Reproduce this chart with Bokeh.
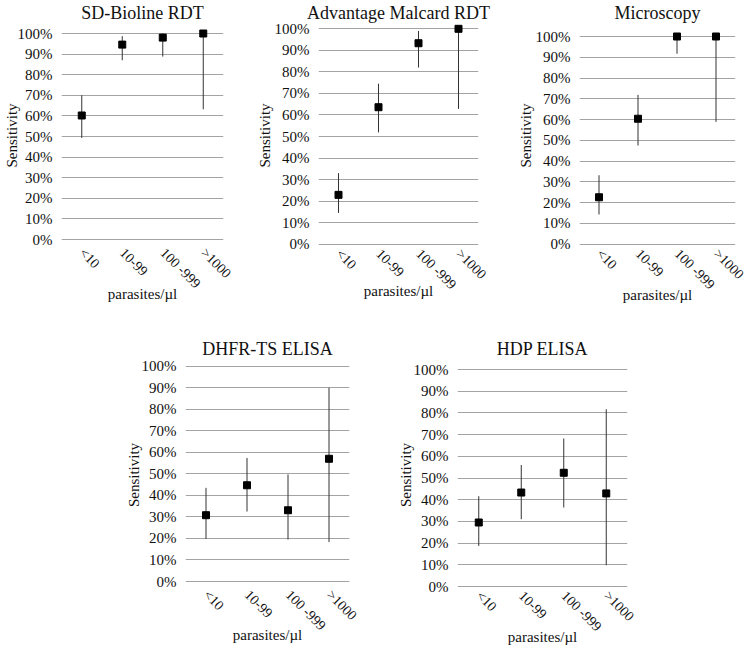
import math
from bokeh.plotting import figure
from bokeh.layouts import column, row
from bokeh.models import FactorRange, Range1d, FixedTicker, PrintfTickFormatter, Spacer, Title
from bokeh.embed import file_html
from bokeh.resources import INLINE

categories = ["<10", "10-99", "100 -999", ">1000"]
y_ticks = [0, 10, 20, 30, 40, 50, 60, 70, 80, 90, 100]

titles = ["SD-Bioline RDT", "Advantage Malcard RDT", "Microscopy", "DHFR-TS ELISA", "HDP ELISA"]
y_label = "Sensitivity"
x_label = "parasites/\u00b5l"

sd_sens = [60.2, 94.6, 98.0, 100.0]
sd_lo = [49.3, 87.0, 88.8, 63.2]
sd_hi = [70.0, 98.7, 100.0, 100.0]

am_sens = [22.9, 63.6, 93.3, 100.0]
am_lo = [14.5, 51.9, 82.0, 62.8]
am_hi = [33.0, 74.5, 99.0, 100.0]

mic_sens = [22.6, 60.4, 100.0, 100.0]
mic_lo = [14.3, 47.5, 91.7, 58.9]
mic_hi = [33.2, 71.9, 100.0, 100.0]

dhfr_sens = [30.8, 44.7, 33.1, 57.0]
dhfr_lo = [19.8, 32.5, 19.5, 18.3]
dhfr_hi = [43.5, 57.4, 49.7, 90.0]

hdp_sens = [29.5, 43.3, 52.4, 42.9]
hdp_lo = [18.7, 31.0, 36.4, 9.8]
hdp_hi = [41.6, 56.0, 68.2, 81.7]

FONT = "Liberation Serif"
GRID = "#a3a3a3"
TEXT = "#111111"


def make_panel(title, sens, lo, hi, lay):
    fw, fh = lay["fw"], lay["fh"]
    top_gap, bot_gap = lay["top_gap"], lay["bot_gap"]
    scale = (fh - top_gap - bot_gap) / 100.0
    y_rng = Range1d(-bot_gap / scale, 100 + top_gap / scale)
    p = figure(x_range=FactorRange(*categories), y_range=y_rng,
               frame_width=fw, frame_height=fh,
               min_border_left=lay["bl"], min_border_top=lay["bt"],
               min_border_right=lay["br"], min_border_bottom=lay["bb"],
               output_backend="svg", toolbar_location=None, title=None)
    p.add_layout(Title(text=title, align="center", text_font=FONT, text_font_size="18px",
                       text_font_style="normal", text_color=TEXT, standoff=lay["ts"]), "above")
    p.outline_line_color = None
    p.background_fill_color = "white"
    p.border_fill_color = "white"
    p.xgrid.grid_line_color = None
    p.ygrid.grid_line_color = GRID
    p.ygrid.grid_line_width = 1
    p.yaxis.ticker = FixedTicker(ticks=y_ticks)
    p.yaxis.formatter = PrintfTickFormatter(format="%d%%")
    for ax in (p.xaxis[0], p.yaxis[0]):
        ax.axis_line_color = None
        ax.major_tick_line_color = None
        ax.minor_tick_line_color = None
        ax.major_tick_out = 0
        ax.major_tick_in = 0
        ax.major_label_text_font = FONT
        ax.major_label_text_color = TEXT
        ax.axis_label_text_font = FONT
        ax.axis_label_text_font_size = "15px"
        ax.axis_label_text_font_style = "normal"
        ax.axis_label_text_color = TEXT
    p.yaxis.major_label_text_font_size = "15px"
    p.xaxis.major_label_text_font_size = "14px"
    p.yaxis.axis_label = y_label
    p.yaxis.major_label_standoff = 9
    p.yaxis.axis_label_standoff = lay["yls"]
    p.xaxis.axis_label = x_label
    p.xaxis.major_label_orientation = -math.pi / 4
    p.xaxis.major_label_standoff = lay["xstand"]
    p.xaxis.axis_label_standoff = lay["xls"]

    p.segment(x0=categories, y0=lo, x1=categories, y1=hi, line_color="#333333", line_width=1)
    p.scatter(x=categories, y=sens, marker="square", size=7, fill_color="black", line_color="black")
    return p


L1 = dict(fw=162, fh=226, bl=60, bt=22, br=23, bb=70, top_gap=11, bot_gap=9, xstand=2, xls=-14, yls=-5, ts=0)
L2 = dict(fw=160, fh=226, bl=72, bt=22, br=18, bb=70, top_gap=6.3, bot_gap=4.3, xstand=3, xls=-18, yls=-1, ts=0)
L3 = dict(fw=156, fh=226, bl=83, bt=22, br=16, bb=70, top_gap=14, bot_gap=4.3, xstand=3, xls=-14, yls=-1, ts=0)
L4 = dict(fw=164, fh=231, bl=63, bt=41, br=45, bb=58, top_gap=6.7, bot_gap=9, xstand=2, xls=-15, yls=-3, ts=2)
L5 = dict(fw=170, fh=231, bl=63, bt=41, br=23, bb=58, top_gap=10, bot_gap=4, xstand=3, xls=-14, yls=-3, ts=2)

p1 = make_panel(titles[0], sd_sens, sd_lo, sd_hi, L1)
p2 = make_panel(titles[1], am_sens, am_lo, am_hi, L2)
p3 = make_panel(titles[2], mic_sens, mic_lo, mic_hi, L3)
p4 = make_panel(titles[3], dhfr_sens, dhfr_lo, dhfr_hi, L4)
p5 = make_panel(titles[4], hdp_sens, hdp_lo, hdp_hi, L5)

layout = column(row(p1, p2, p3), row(Spacer(width=122, height=10), p4, p5))

open("out.html", "w").write(file_html(layout, INLINE))
